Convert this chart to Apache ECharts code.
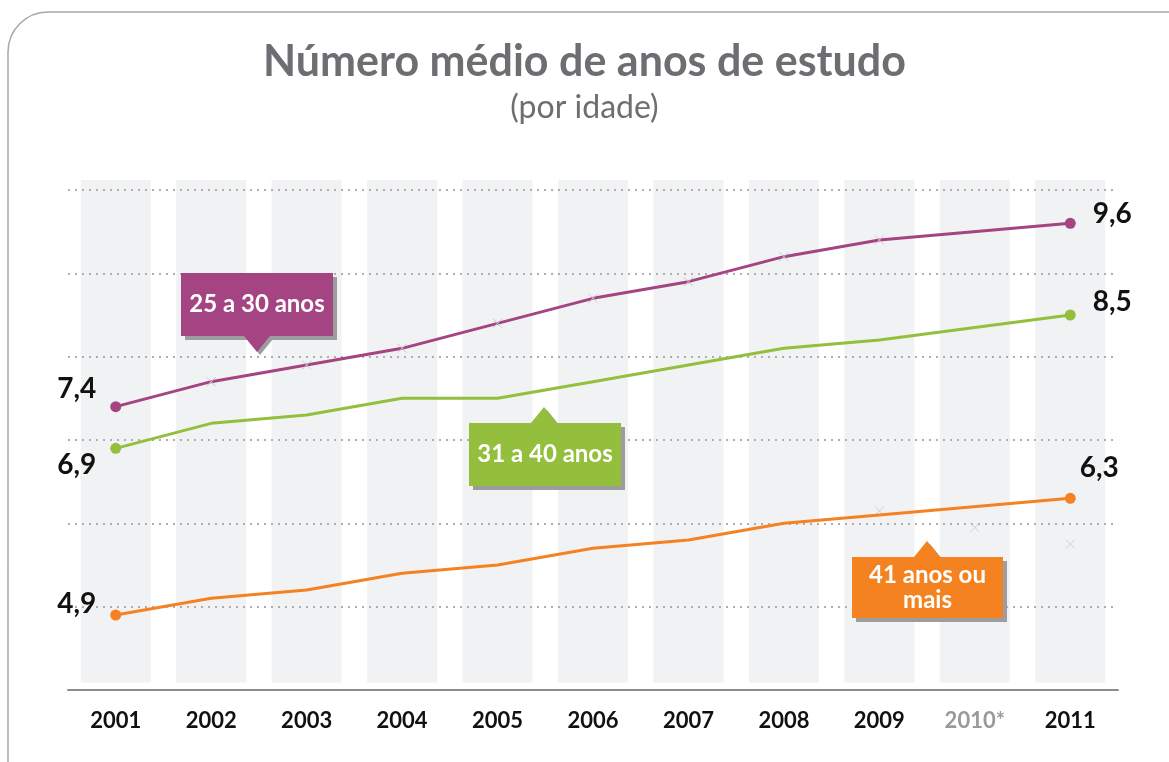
<!DOCTYPE html>
<html>
<head>
<meta charset="utf-8">
<script src="https://cdn.jsdelivr.net/npm/echarts@6/dist/echarts.min.js"></script>
<style>
  html, body { margin: 0; padding: 0; background: #fff; }
  #chart { width: 1169px; height: 762px; }
</style>
</head>
<body>
<div id="chart"></div>
<script>
const years = ["2001", "2002", "2003", "2004", "2005", "2006", "2007", "2008", "2009", "2010*", "2011"];
const age25to30 = [7.4, 7.7, 7.9, 8.1, 8.4, 8.7, 8.9, 9.2, 9.4, null, 9.6];
const age31to40 = [6.9, 7.2, 7.3, 7.5, 7.5, 7.7, 7.9, 8.1, 8.2, null, 8.5];
const age41plus = [4.9, 5.1, 5.2, 5.4, 5.5, 5.7, 5.8, 6.0, 6.1, null, 6.3];
// faint leftover markers in the picture
const ghostMarks = [null, null, null, null, null, null, null, null, 6.15, 5.95, 5.75];

const FONT = "Lato";
const CROSS = "path://M0,0L10,10M10,0L0,10";
// grey column band: from 4.09 up to 10.12
const BAND_LOW = 4.09, BAND_HIGH = 10.12;

// end points get a dot and a value label
function endPoints(values, color, firstOffset, lastOffset) {
  return values.map((v, i) => {
    if (i === 0 || i === values.length - 1) {
      const first = i === 0;
      return {
        value: v,
        symbol: "circle",
        symbolSize: 11,
        itemStyle: { color: color, borderWidth: 0 },
        label: {
          show: true,
          position: first ? "left" : "right",
          offset: first ? firstOffset : lastOffset,
          formatter: (p) => p.value.toFixed(1).replace(".", ","),
          color: "#111",
          fontFamily: FONT,
          fontWeight: "bold",
          fontSize: 28
        }
      };
    }
    return v;
  });
}

function callout(x, y, w, h, color, text, tipUp, tipX) {
  const tipH = 16, half = 13;
  const tri = tipUp
    ? [[tipX - half, y], [tipX, y - tipH], [tipX + half, y]]
    : [[tipX - half, y + h], [tipX, y + h + tipH], [tipX + half, y + h]];
  const shTri = tri.map(p => [p[0] + 3, p[1] + 3]);
  return [
    { type: "rect", z: 20, shape: { x: x + 4, y: y + 4, width: w, height: h }, style: { fill: "#9d9d9d" } },
    { type: "polygon", z: 20, shape: { points: shTri }, style: { fill: "#9d9d9d" } },
    { type: "rect", z: 21, shape: { x: x, y: y, width: w, height: h }, style: { fill: color } },
    { type: "polygon", z: 21, shape: { points: tri }, style: { fill: color } },
    {
      type: "text", z: 22, x: x + w / 2, y: y + h / 2,
      style: {
        text: text, fill: "#fff", font: "bold 24px " + FONT,
        align: "center", verticalAlign: "middle", lineHeight: 25
      }
    }
  ];
}

const chart = echarts.init(document.getElementById("chart"));
const option = {
  animation: false,
  backgroundColor: "#fff",
  title: {
    text: "Número médio de anos de estudo",
    subtext: "(por idade)",
    left: "center",
    top: 36,
    itemGap: 8,
    textStyle: { fontFamily: FONT, fontWeight: "bold", fontSize: 43, color: "#6d6e71" },
    subtextStyle: { fontFamily: FONT, fontSize: 32, color: "#6d6e71" }
  },
  grid: { left: 68, right: 51, top: 190, bottom: 72 },
  xAxis: {
    type: "category",
    data: years,
    z: 10,
    axisLine: { lineStyle: { color: "#8c8c8c", width: 2 } },
    axisTick: { show: false },
    axisLabel: {
      margin: 20,
      fontFamily: FONT,
      fontWeight: "bold",
      fontSize: 22,
      color: (v) => (v === "2010*" ? "#9a9a9a" : "#111")
    }
  },
  yAxis: {
    type: "value",
    min: 4,
    max: 10,
    interval: 1,
    z: 3,
    axisLine: { show: false },
    axisTick: { show: false },
    axisLabel: { show: false },
    splitLine: { lineStyle: { color: "#aeaeae", width: 2, type: [2, 5] } }
  },
  series: [
    {
      type: "bar", stack: "bg", silent: true, barWidth: 70,
      data: years.map(() => BAND_LOW), itemStyle: { color: "transparent" }, z: 1
    },
    {
      type: "bar", stack: "bg", silent: true, clip: false, barWidth: 70,
      data: years.map(() => BAND_HIGH - BAND_LOW), itemStyle: { color: "#f1f2f4" }, z: 1
    },
    {
      name: "25 a 30 anos", type: "line", connectNulls: true, z: 5,
      symbol: CROSS, symbolSize: 9,
      itemStyle: { color: "transparent", borderColor: "#c9c6d2", borderWidth: 1 },
      lineStyle: { color: "#a54482", width: 3 },
      data: endPoints(age25to30, "#a54482", [-9, -18], [12, -9])
    },
    {
      name: "31 a 40 anos", type: "line", connectNulls: true, z: 5,
      symbol: "none",
      lineStyle: { color: "#93bf3d", width: 3 },
      data: endPoints(age31to40, "#93bf3d", [-9, 17], [12, -13])
    },
    {
      name: "41 anos ou mais", type: "line", connectNulls: true, z: 5,
      symbol: "none",
      lineStyle: { color: "#f58220", width: 3 },
      data: endPoints(age41plus, "#f58220", [-9, -11], [-1, -30])
    },
    {
      type: "scatter", symbol: CROSS, symbolSize: 9, z: 4, silent: true,
      itemStyle: { color: "transparent", borderColor: "#c9c6d2", borderWidth: 1 },
      data: ghostMarks
    }
  ],
  graphic: [
    {
      type: "rect", z: 0, silent: true,
      shape: { x: 8, y: 12, width: 1240, height: 820, r: 40 },
      style: { fill: "none", stroke: "#a8a8a8", lineWidth: 1.5 }
    },
    ...callout(181, 273, 152, 63, "#a54482", "25 a 30 anos", false, 257),
    ...callout(469, 423, 152, 63, "#93bf3d", "31 a 40 anos", true, 544),
    ...callout(852, 557, 151, 61, "#f58220", "41 anos ou\nmais", true, 927)
  ]
};
chart.setOption(option);
window.addEventListener("resize", chart.resize);
</script>
</body>
</html>
